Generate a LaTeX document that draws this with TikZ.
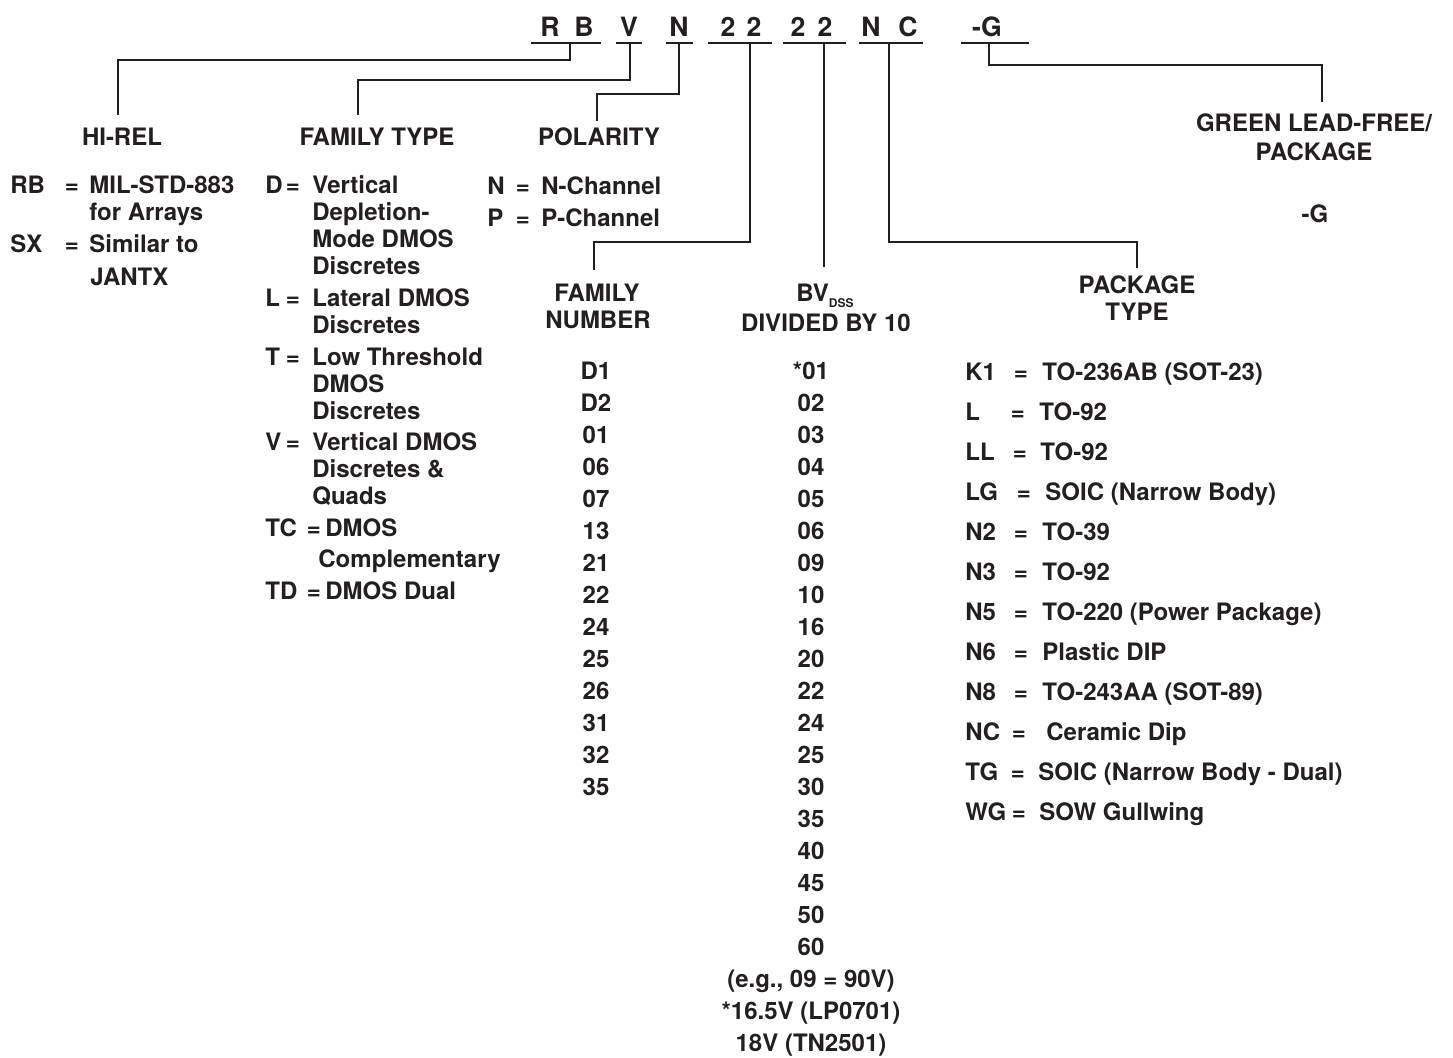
\documentclass[tikz,border=0pt]{standalone}
\usepackage{fontspec}
\setmainfont{TeX Gyre Heros}
\usepackage{xcolor}
\usepackage{tikz}
\definecolor{tinta}{RGB}{35,31,32}
\tikzset{
  linea/.style={draw=tinta, line width=1.3pt},
  codigo/.style={inner sep=0pt, anchor=base, text=tinta, font=\fontsize{13.3}{16}\selectfont\bfseries},
  lista/.style={inner sep=0pt, anchor=base west, yshift=-4.3pt, text=tinta, font=\fontsize{12}{14}\selectfont\bfseries},
  titulo/.style={lista, anchor=base}
}

\begin{document}
\begin{tikzpicture}[x=0.5pt, y=-0.5pt]
  \useasboundingbox (0,0) rectangle (1453,1057);
  \foreach \x/\c [count=\i] in {550/R,584/B,629/V,679/N,728/2,754/2,798/2,825/2,871/N,908/C,987/-G}
    \node[codigo] (c\i) at (\x,36) {\c};
  \foreach \a/\b in {531/601,616/642,666/693,708/772,783/846,859/923,961/1029}
    \draw[linea] (\a,43) -- (\b,43);

  \node[titulo] (hirel) at (122,137) {HI-REL};
  \node[titulo] (famtipo) at (377,137) {FAMILY TYPE};
  \node[titulo] (polar) at (599,137) {POLARITY};
  \node[titulo] (famnum) at (597,293) {FAMILY};
  \node[titulo] (famnum2) at (598,320) {NUMBER};
  \node[titulo] (bvh1) at (825,293) {BV\raisebox{-2.7pt}{\fontsize{6}{6}\selectfont DSS}};
  \node[titulo] (bvh2) at (826,323) {DIVIDED BY 10};
  \node[titulo] (pkg) at (1137,285) {PACKAGE};
  \node[titulo] (pkg2) at (1137,312) {TYPE};
  \node[titulo] (verde) at (1314,123) {GREEN LEAD-FREE/};
  \node[titulo] (verde2) at (1314,152) {PACKAGE};
  \node[titulo] (verdeG) at (1315,214) {-G};

  \coordinate (tRB) at (570,43);
  \coordinate (tV) at (630,43);
  \coordinate (tN) at (679,43);
  \coordinate (tFN) at (750,43);
  \coordinate (tBV) at (824,43);
  \coordinate (tNC) at (889,43);
  \coordinate (tG) at (989,43);
  \coordinate (eHI) at (118,115);
  \coordinate (eFT) at (358,115);
  \coordinate (ePO) at (597,121);
  \coordinate (eFN) at (594,270);
  \coordinate (eBV) at (824,267);
  \coordinate (eNC) at (1137,268);
  \coordinate (eG) at (1322,102);
  \draw[linea] (tRB) -- ++(0,17) -| (eHI);
  \draw[linea] (tV) -- ++(0,37) -| (eFT);
  \draw[linea] (tN) -- ++(0,51) -| (ePO);
  \draw[linea] (tFN) -- ++(0,199) -| (eFN);
  \draw[linea] (tBV) -- (eBV);
  \draw[linea] (tNC) -- ++(0,199) -| (eNC);
  \draw[linea] (tG) -- ++(0,22) -| (eG);

  \foreach \y/\k/\t [count=\i] in {185/RB/MIL-STD-883, 244/SX/Similar to}
  {
    \node[lista] (hk\i) at (10,\y) {\k};
    \node[titulo] (he\i) at (72,\y) {=};
    \node[lista] (hv\i) at (89,\y) {\t};
  }
  \node[lista] (hv3) at (89,212) {for Arrays};
  \node[lista] (hv4) at (90,277) {JANTX};

  \foreach \y/\k/\t [count=\i] in {186/N/N-Channel, 218/P/P-Channel}
  {
    \node[lista] (pok\i) at (487,\y) {\k};
    \node[titulo] (poe\i) at (523,\y) {=};
    \node[lista] (pov\i) at (541,\y) {\t};
  }

  \foreach \y/\k/\e/\v/\t [count=\i] in {185/D/293/312/Vertical, 298/L/293/312/Lateral DMOS,
      357/T/293/312/Low Threshold, 442/V/293/312/Vertical DMOS, 528/TC/314/325/DMOS, 591/TD/314/325/DMOS Dual}
  {
    \node[lista] (ftk\i) at (265,\y) {\k};
    \node[titulo] (fte\i) at (\e,\y) {=};
    \node[lista] (ftv\i) at (\v,\y) {\t};
  }
  \foreach \x/\y/\t [count=\i] in {312/212/Depletion-, 312/239/Mode DMOS, 312/266/Discretes, 312/325/Discretes,
      312/384/DMOS, 312/411/Discretes, 312/469/Discretes \&, 312/496/Quads, 318/559/Complementary}
    \node[lista] (ftc\i) at (\x,\y) {\t};

  \foreach \t [count=\i] in {D1,D2,01,06,07,13,21,22,24,25,26,31,32,35}
    \node[titulo] (fn\i) at (596,{339+32*\i}) {\t};
  \foreach \t [count=\i] in {*01,02,03,04,05,06,09,10,16,20,22,24,25,30,35,40,45,50,60,{(e.g., 09 = 90V)},{*16.5V (LP0701)},{18V (TN2501)}}
    \node[titulo] (dv\i) at (811,{339+32*\i}) {\t};

  \foreach \k/\e/\v/\t [count=\i] in {K1/1021/1042/{TO-236AB (SOT-23)}, L/1018/1039/TO-92, LL/1020/1040/TO-92,
      LG/1024/1045/{SOIC (Narrow Body)}, N2/1021/1042/TO-39, N3/1021/1042/TO-92, N5/1021/1042/{TO-220 (Power Package)},
      N6/1021/1042/Plastic DIP, N8/1021/1042/{TO-243AA (SOT-89)}, NC/1019/1046/Ceramic Dip,
      TG/1018/1038/{SOIC (Narrow Body - Dual)}, WG/1019/1039/SOW Gullwing}
  {
    \node[lista] (pk\i) at (965,{332+40*\i}) {\k};
    \node[titulo] (pe\i) at (\e,{332+40*\i}) {=};
    \node[lista] (pv\i) at (\v,{332+40*\i}) {\t};
  }
\end{tikzpicture}
\end{document}
